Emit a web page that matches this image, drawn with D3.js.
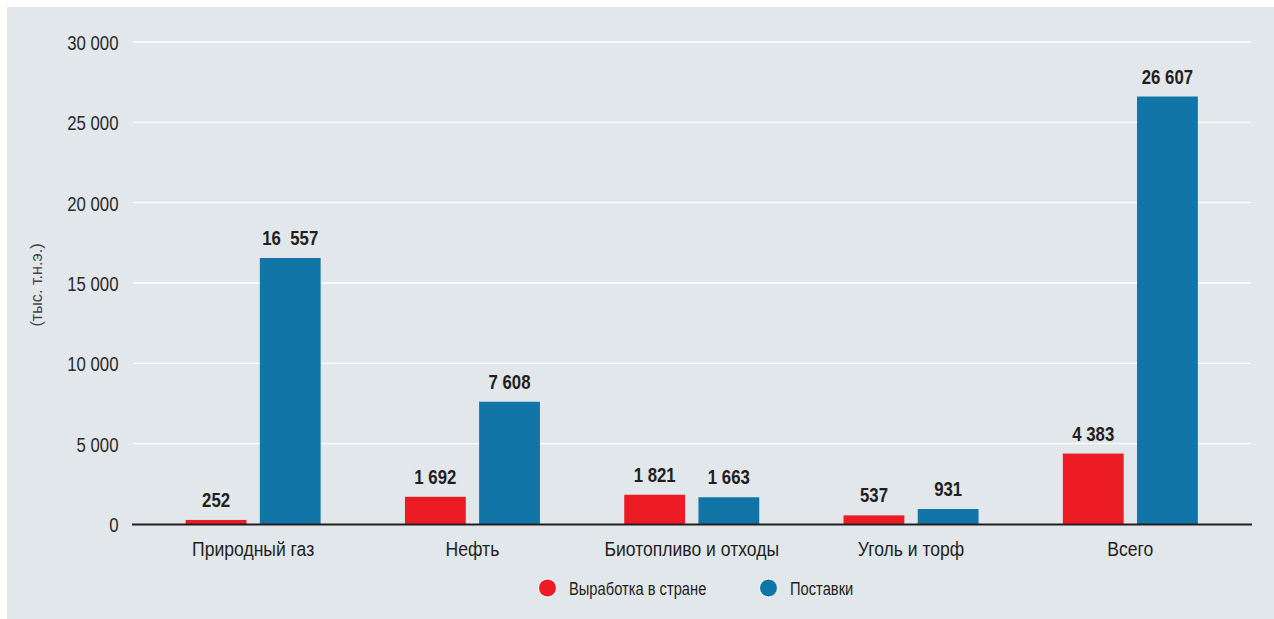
<!DOCTYPE html>
<html><head><meta charset="utf-8">
<script src="https://cdn.jsdelivr.net/npm/d3@7"></script>
<style>
body{margin:0;background:#fff;}
svg{display:block;}
text{font-family:"Liberation Sans",Arial,sans-serif;}
</style></head>
<body>
<svg id="c" width="1274" height="619"></svg>
<script>
const categories = ["Природный газ","Нефть","Биотопливо и отходы","Уголь и торф","Всего"];
const seriesNames = ["Выработка в стране","Поставки"];
const production = [252, 1692, 1821, 537, 4383];
const supply = [16557, 7608, 1663, 931, 26607];
const valueLabelsProd = ["252","1 692","1 821","537","4 383"];
const valueLabelsSupply = ["16  557","7 608","1 663","931","26 607"];
const yTicks = [0,5000,10000,15000,20000,25000,30000];
const yTickLabels = ["0","5 000","10 000","15 000","20 000","25 000","30 000"];
const yTitle = "(тыс. т.н.э.)";
const colors = ["#ED1C24","#1175A7"];

const svg = d3.select("#c");
svg.append("rect").attr("x",7).attr("y",7).attr("width",1267).attr("height",612).attr("fill","#E2E7EB");

const x0 = d3.scaleBand().domain(categories).range([143.5,1240]).padding(0);
const x1 = d3.scaleBand().domain(seriesNames).range([0,135]).paddingInner(0.18);
const y = d3.scaleLinear().domain([0,30000]).range([524,42]);
const left = 133, right = 1251;

// gridlines
svg.append("g").selectAll("line").data(yTicks.filter(d=>d>0)).join("line")
  .attr("x1",left).attr("x2",right).attr("y1",d=>y(d)).attr("y2",d=>y(d))
  .attr("stroke","#fff").attr("stroke-width",1.3);

// y tick labels (condensed)
svg.append("g").selectAll("text").data(yTicks).join("text")
  .attr("transform",d=>`translate(118.5,${y(d)+8}) scale(0.8,1)`).attr("text-anchor","end")
  .attr("font-size",21).attr("fill","#2b2b2b").text((d,i)=>yTickLabels[i]);

// y title
svg.append("text").attr("transform","translate(42,285) rotate(-90) scale(0.95,1)")
  .attr("text-anchor","middle").attr("font-size",17).attr("fill","#444").text(yTitle);

const groups = categories.map((c,i)=>({c, vals:[production[i],supply[i]], labs:[valueLabelsProd[i],valueLabelsSupply[i]]}));
const g = svg.append("g").selectAll("g").data(groups).join("g")
  .attr("transform",d=>`translate(${x0(d.c)+x0.bandwidth()/2-67.5},0)`);

g.selectAll("rect").data(d=>d.vals.map((v,k)=>({v,k}))).join("rect")
  .attr("x",d=>x1(seriesNames[d.k])).attr("width",x1.bandwidth())
  .attr("y",d=>y(d.v)).attr("height",d=>y(0)-y(d.v)).attr("fill",d=>colors[d.k]);

g.selectAll("text.v").data(d=>d.vals.map((v,k)=>({v,k,l:d.labs[k]}))).join("text")
  .attr("class","v")
  .attr("transform",d=>`translate(${x1(seriesNames[d.k])+x1.bandwidth()/2},${y(d.v)-13}) scale(0.84,1)`)
  .attr("text-anchor","middle")
  .attr("font-size",20).attr("font-weight","bold").attr("fill","#231F20")
  .style("white-space","pre").text(d=>d.l);

// axis line
svg.append("line").attr("x1",left-1).attr("x2",right+1).attr("y1",y(0)+0.5).attr("y2",y(0)+0.5)
  .attr("stroke","#231F20").attr("stroke-width",2.2);

// category labels
svg.append("g").selectAll("text").data(categories).join("text")
  .attr("transform",d=>`translate(${x0(d)+x0.bandwidth()/2},556) scale(0.9,1)`).attr("text-anchor","middle")
  .attr("font-size",19.5).attr("fill","#231F20").text(d=>d);

// legend
const lx = [547.5,768.5];
const lg = svg.append("g").selectAll("g").data(seriesNames).join("g")
  .attr("transform",(d,i)=>`translate(${lx[i]},588)`);
lg.append("circle").attr("r",9).attr("fill",(d,i)=>colors[i]).attr("stroke","#fff").attr("stroke-width",1);
lg.append("text").attr("transform","translate(21.5,6.5) scale(0.84,1)").attr("font-size",17.5).attr("fill","#231F20").text(d=>d);
</script>
</body></html>
